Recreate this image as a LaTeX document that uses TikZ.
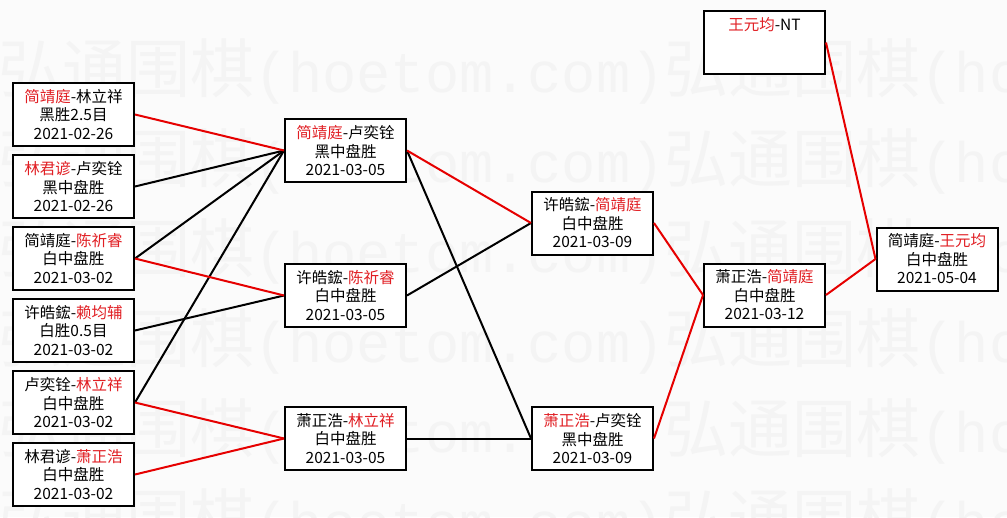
\documentclass[tikz,border=0pt]{standalone}
\usepackage{fontspec}
\usepackage{tikz}
\usetikzlibrary{positioning}
\newfontfamily\cjk{Noto Sans CJK SC}
\newfontfamily\hoemono{Liberation Mono}
\definecolor{hoered}{RGB}{225, 30, 35}
\definecolor{hoeline}{RGB}{230, 0, 0}
\definecolor{hoebg}{RGB}{251, 251, 251}
\definecolor{hoemark}{RGB}{244, 244, 244}
\newcommand\win[1]{\textcolor{hoered}{#1}}
\newcommand\hoemark{{\fontsize{64}{64}\selectfont\cjk 弘通围棋}{\fontsize{57}{64}\selectfont\hoemono (hoetom.com)}}

\tikzset{
  game/.style={rectangle, draw=black, line width=2pt, fill=white, minimum width=121pt, minimum height=63pt, inner sep=2pt, align=center, font=\cjk\fontsize{15.5}{18.5}\selectfont},
  winline/.style={draw=hoeline, line width=2pt},
  loseline/.style={draw=black, line width=2pt},
  watermark/.style={anchor=base west, inner sep=0pt, text=hoemark}
}

\begin{document}
\begin{tikzpicture}[x=1pt, y=-1pt]
    \fill[hoebg] (0,0) rectangle (1007,517);
    \useasboundingbox (0,0) rectangle (1007,517);
    \begin{scope}
      \clip (0,0) rectangle (1007,517);
      \foreach \row in {1,...,6}
        \node[watermark] (wm\row) at (-2,{90*\row+2}) {\hoemark\hoemark};
    \end{scope}

    % first round
    \node[game] (r1a) at (73.5,114.5) {\win{简靖庭}-林立祥\\黑胜2.5目\\2021-02-26};
    \node[game] (r1b) at (73.5,186.5) {\win{林君谚}-卢奕铨\\黑中盘胜\\2021-02-26};
    \node[game] (r1c) at (73.5,258.5) {简靖庭-\win{陈祈睿}\\白中盘胜\\2021-03-02};
    \node[game] (r1d) at (73.5,330.5) {许皓鋐-\win{赖均辅}\\白胜0.5目\\2021-03-02};
    \node[game] (r1e) at (73.5,402.5) {卢奕铨-\win{林立祥}\\白中盘胜\\2021-03-02};
    \node[game] (r1f) at (73.5,474.5) {林君谚-\win{萧正浩}\\白中盘胜\\2021-03-02};

    % second round
    \node[game] (r2a) at (345.5,150.5) {\win{简靖庭}-卢奕铨\\黑中盘胜\\2021-03-05};
    \node[game] (r2b) at (345.5,295.5) {许皓鋐-\win{陈祈睿}\\白中盘胜\\2021-03-05};
    \node[game] (r2c) at (345.5,438.5) {萧正浩-\win{林立祥}\\白中盘胜\\2021-03-05};

    % later rounds
    \node[game] (r3a) at (592.5,223) {许皓鋐-\win{简靖庭}\\白中盘胜\\2021-03-09};
    \node[game] (r3b) at (592.5,438.5) {\win{萧正浩}-卢奕铨\\黑中盘胜\\2021-03-09};
    \node[game] (r4a) at (764.5,295) {萧正浩-\win{简靖庭}\\白中盘胜\\2021-03-12};
    \node[game] (seed) at (764.5,42.5) {\win{王元均}-NT\\\mbox{}\\\mbox{}};
    \node[game] (final) at (937,259) {简靖庭-\win{王元均}\\白中盘胜\\2021-05-04};

    \draw[loseline] (r1b.east) -- (r2a.west);
    \draw[loseline] (r1c.east) -- (r2a.west);
    \draw[loseline] (r1e.east) -- (r2a.west);
    \draw[loseline] (r1d.east) -- (r2b.west);
    \draw[loseline] (r2a.east) -- (r3b.west);
    \draw[loseline] (r2b.east) -- (r3a.west);
    \draw[loseline] (r2c.east) -- (r3b.west);

    \draw[winline] (r1a.east) -- (r2a.west);
    \draw[winline] (r1c.east) -- (r2b.west);
    \draw[winline] (r1e.east) -- (r2c.west);
    \draw[winline] (r1f.east) -- (r2c.west);
    \draw[winline] (r2a.east) -- (r3a.west);
    \draw[winline] (r3a.east) -- (r4a.west);
    \draw[winline] (r3b.east) -- (r4a.west);
    \draw[winline] (seed.east) -- (final.west);
    \draw[winline] (r4a.east) -- (final.west);
  \end{tikzpicture}
\end{document}
